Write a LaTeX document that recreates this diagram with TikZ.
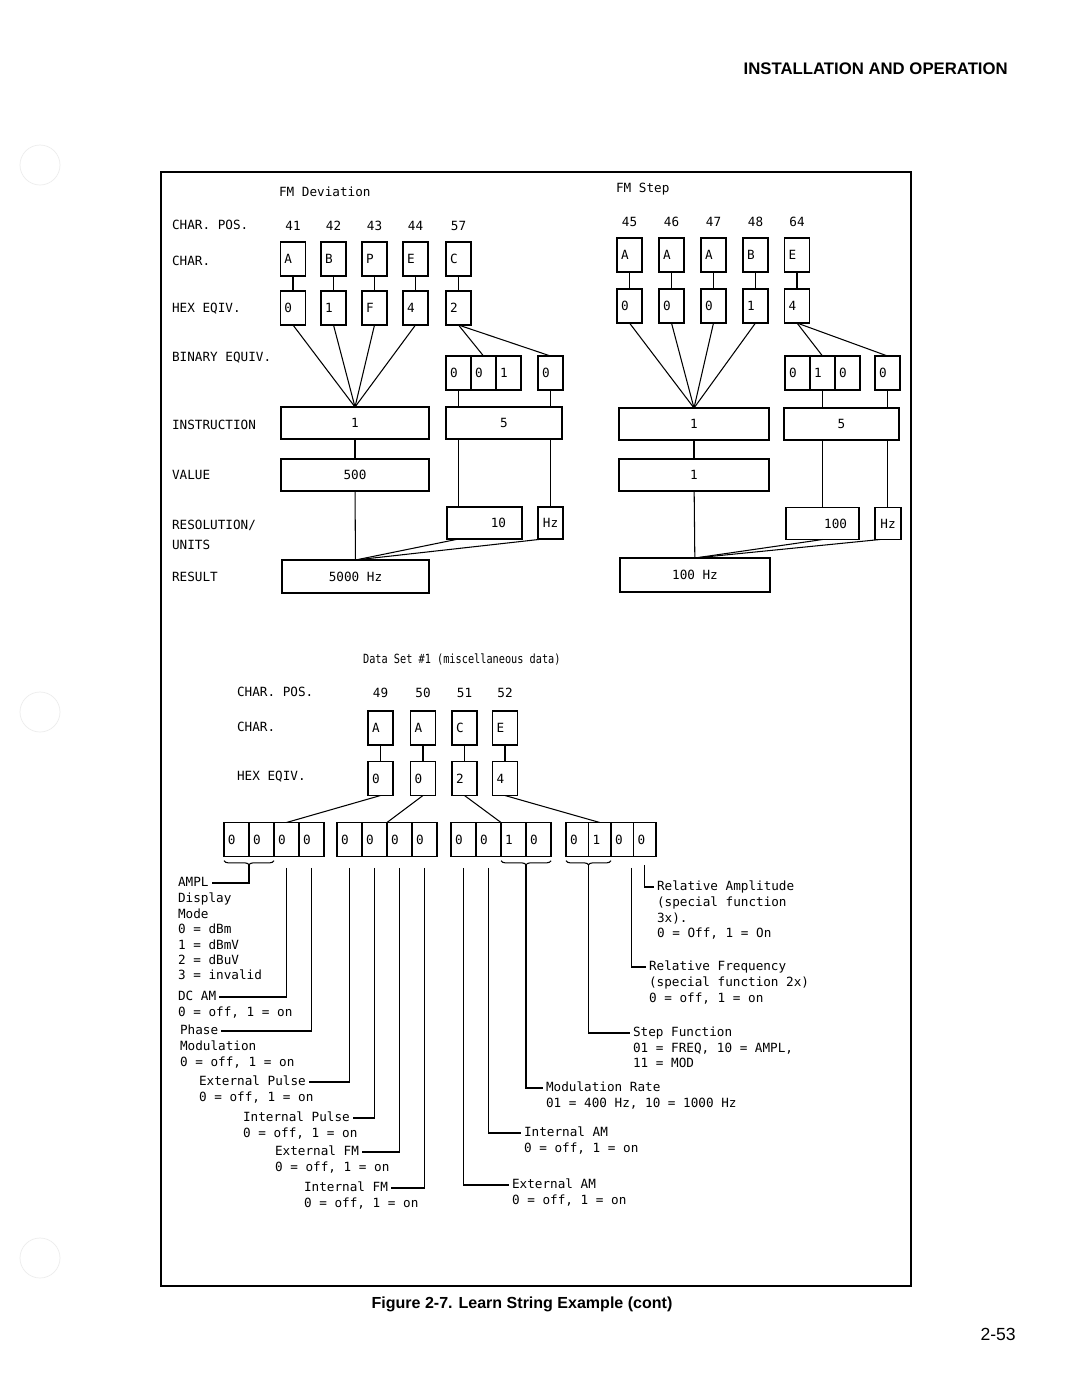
\documentclass[tikz,border=0pt]{standalone}
\usepackage{fontspec}
\usepackage{graphicx}
\setmainfont{Liberation Sans}
\newfontfamily\plotfont{DejaVu Sans Mono}
\newcommand\plotsize{\plotfont\fontsize{9}{11}\selectfont}
\usetikzlibrary{positioning,calc,decorations.pathreplacing}

\begin{document}
\begin{tikzpicture}[x=0.025cm,y=-0.025cm,font=\plotsize,
	box/.style={draw,line width=1.1pt,outer sep=0pt,inner sep=0pt},
	cell/.style={box,minimum height=0.85cm,text width=#1,inner xsep=0.1cm,align=left},
	cell/.default=0.425cm,
	wide/.style={box,minimum height=0.8cm,minimum width=#1},
	lbl/.style={inner xsep=2pt,inner ysep=1pt,text height=6.8pt,text depth=2.5pt,anchor=west},
	body/.style={inner xsep=2pt,inner ysep=1pt,align=left,anchor=north west},
	lead/.style={line width=0.75pt},
	bracket/.style={lead,decorate,decoration={brace,mirror,amplitude=3pt}}]
	\fill [white] (0,0) rectangle (1080,1397);
	\useasboundingbox (0,0) rectangle (1080,1397);
	% punched holes of the page
	\foreach \y in {165,712,1258}
		\draw [black!7,line width=0.5pt] (40,\y) circle (20);
	\node [font=\rmfamily\bfseries\fontsize{11.9}{14}\selectfont,inner sep=0pt,anchor=east] (head) at (1008,69) {INSTALLATION AND OPERATION};
	\draw [line width=1.2pt] (161,172) rectangle (911,1286);

	% row titles
	\node [lbl] (devtitle) at (276,193) {FM Deviation};
	\node [lbl] (stptitle) at (613,189) {FM Step};
	\node [lbl] (rowpos) at (169,226) {CHAR. POS.};
	\node [lbl] (rowchar) at (169,262) {CHAR.};
	\node [lbl] (rowhex) at (169,309) {HEX EQIV.};
	\node [lbl] (rowbin) at (169,358) {BINARY EQUIV.};
	\node [lbl] (rowins) at (169,426) {INSTRUCTION};
	\node [lbl] (rowval) at (169,476) {VALUE};
	\node [body,anchor=west] (rowres) at (169,535) {RESOLUTION/\\[3pt]UNITS};
	\node [lbl] (rowout) at (169,578) {RESULT};

	% FM deviation
	\foreach \x/\p/\c/\h [count=\i] in {293/41/A/0,333.5/42/B/1,374.5/43/P/F,415.5/44/E/4,458.5/57/C/2}{
		\node (devp\i) at (\x,226) {\p};
		\node [cell] (devc\i) at (\x,259) {\c};
		\node [cell] (devh\i) at (\x,308) {\h};
		\draw [lead] (devc\i) -- (devh\i);
	}
	\node [wide=3.7cm] (devi) at (355,423) {1};
	\foreach \i in {1,...,4}
		\draw [lead] (devh\i.south) -- (devi.north);
	\node [cell] (devb1) at (458.5,373) {0};
	\node [cell,right=0pt of devb1] (devb2) {0};
	\node [cell,right=0pt of devb2] (devb3) {1};
	\node [cell] (devb4) at (550.5,373) {0};
	\node [wide=2.9cm] (devj) at (504,423) {5};
	\draw [lead] (devh5.south) -- (devb2.north);
	\draw [lead] (devh5.south) -- (devb4.north);
	\draw [lead] (devb1.south) -- (devb1.south |- devj.north);
	\draw [lead] (devb4.south) -- (devb4.south |- devj.north);
	\node [wide=3.7cm] (devv) at (355,475) {500};
	\node [box,minimum height=0.8cm,text width=1.075cm,inner xsep=0.4cm,align=right] (devr) at (484.5,523) {10};
	\node [wide=0.625cm] (devu) at (550.5,523) {Hz};
	\draw [lead] (devb1 |- devj.south) -- (devb1 |- devr.north);
	\draw [lead] (devb4 |- devj.south) -- (devb4 |- devu.north);
	\node [wide=3.675cm,minimum height=0.825cm] (devres) at (355.5,576.5) {5000 Hz};
	\draw [lead] (devi) -- (devv);
	\draw [lead] (devv) -- (devres);
	\draw [lead] (devb1 |- devr.south) -- (devres.north);
	\draw [lead] ($(devu.south west)+(5,0)$) -- (devres.north);

	% FM step
	\foreach \x/\p/\c/\h [count=\i] in {629.5/45/A/0,671.5/46/A/0,713.5/47/A/0,755.5/48/B/1,797/64/E/4}{
		\node (stpp\i) at (\x,222) {\p};
		\node [cell] (stpc\i) at (\x,255) {\c};
		\node [cell] (stph\i) at (\x,306) {\h};
		\draw [lead] (stpc\i) -- (stph\i);
	}
	\node [wide=3.75cm] (stpi) at (694,424) {1};
	\foreach \i in {1,...,4}
		\draw [lead] (stph\i.south) -- (stpi.north);
	\node [cell] (stpb1) at (797.5,373) {0};
	\node [cell,right=0pt of stpb1] (stpb2) {1};
	\node [cell,right=0pt of stpb2] (stpb3) {0};
	\node [cell] (stpb4) at (887.5,373) {0};
	\node [wide=2.875cm] (stpj) at (841.5,424) {5};
	\draw [lead] (stph5.south) -- (stpb2.north);
	\draw [lead] (stph5.south) -- (stpb4.north);
	\draw [lead] (stpb2.south) -- (stpb2.south |- stpj.north);
	\draw [lead] (stpb4.south) -- (stpb4.south |- stpj.north);
	\node [wide=3.75cm] (stpv) at (694,475) {1};
	\node [box,minimum height=0.8cm,text width=1.225cm,inner xsep=0.3cm,align=right] (stpr) at (822.5,523.5) {100};
	\node [wide=0.65cm] (stpu) at (888,523.5) {Hz};
	\draw [lead] (stpb2 |- stpj.south) -- (stpb2 |- stpr.north);
	\draw [lead] (stpb4 |- stpj.south) -- (stpb4 |- stpu.north);
	\node [wide=3.75cm,minimum height=0.85cm] (stpres) at (695,575) {100 Hz};
	\draw [lead] (stpi) -- (stpv);
	\draw [lead] (stpv) -- (stpres);
	\draw [lead] (stpb2 |- stpr.south) -- (stpres.north);
	\draw [lead] ($(stpu.south west)+(5,0)$) -- (stpres.north);

	% data set #1
	\node [lbl] (dstitle) at (360,660) {\scalebox{0.81}[1]{Data Set \#1 (miscellaneous data)}};
	\node [lbl] (dsrowpos) at (234,693) {CHAR. POS.};
	\node [lbl] (dsrowchar) at (234,728) {CHAR.};
	\node [lbl] (dsrowhex) at (234,777) {HEX EQIV.};
	\foreach \x/\p/\c/\h [count=\i] in {380.5/49/A/0,423/50/A/0,464.5/51/C/2,505/52/E/4}{
		\node (dsp\i) at (\x,693) {\p};
		\node [cell] (dsc\i) at (\x,728) {\c};
		\node [cell] (dsh\i) at (\x,778.5) {\h};
		\draw [lead] (dsc\i) -- (dsh\i);
	}
	\foreach \g/\x/\tw/\ba/\bb/\bc/\bd in {1/236.5/0.425cm/0/0/0/0,2/349.5/0.425cm/0/0/0/0,3/463.5/0.425cm/0/0/1/0,4/577.25/0.3625cm/0/1/0/0}{
		\node [cell=\tw] (d\g1) at (\x,839.5) {\ba};
		\node [cell=\tw,right=0pt of d\g1] (d\g2) {\bb};
		\node [cell=\tw,right=0pt of d\g2] (d\g3) {\bc};
		\node [cell=\tw,right=0pt of d\g3] (d\g4) {\bd};
	}
	\draw [lead] (dsh1.south) -- (d13.north);
	\draw [lead] (dsh2.south) -- (d22.north east);
	\draw [lead] (dsh3.south) -- (d32.north east);
	\draw [lead] (dsh4.south) -- (d42.north);
	\draw [bracket] ([yshift=-3pt]d11.south west) -- ([yshift=-3pt]d12.south east);
	\draw [bracket] ([yshift=-3pt]d33.south west) -- ([yshift=-3pt]d34.south east);
	\draw [bracket] ([yshift=-3pt]d41.south west) -- ([yshift=-3pt]d42.south east);

	% bit meanings, left
	\node [lbl] (ampl) at (175,883) {AMPL};
	\node [body] (amplb) at (ampl.south west) {Display\\Mode\\0 = dBm\\1 = dBmV\\2 = dBuV\\3 = invalid};
	\node [lbl] (dcam) at (175,997) {DC AM};
	\node [body] (dcamb) at (dcam.south west) {0 = off, 1 = on};
	\node [lbl] (phase) at (177,1031) {Phase};
	\node [body] (phaseb) at (phase.south west) {Modulation\\0 = off, 1 = on};
	\node [lbl] (extp) at (196,1082) {External Pulse};
	\node [body] (extpb) at (extp.south west) {0 = off, 1 = on};
	\node [lbl] (intp) at (240,1118) {Internal Pulse};
	\node [body] (intpb) at (intp.south west) {0 = off, 1 = on};
	\node [lbl] (extf) at (272,1152) {External FM};
	\node [body] (extfb) at (extf.south west) {0 = off, 1 = on};
	\node [lbl] (intf) at (301,1188) {Internal FM};
	\node [body] (intfb) at (intf.south west) {0 = off, 1 = on};
	% bit meanings, right
	\node [lbl] (rela) at (654,887) {Relative Amplitude};
	\node [body] (relab) at (rela.south west) {(special function\\3x).\\0 = Off, 1 = On};
	\node [lbl] (relf) at (646,967) {Relative Frequency};
	\node [body] (relfb) at (relf.south west) {(special function 2x)\\0 = off, 1 = on};
	\node [lbl] (stepf) at (630,1033) {Step Function};
	\node [body] (stepfb) at (stepf.south west) {01 = FREQ, 10 = AMPL,\\11 = MOD};
	\node [lbl] (modr) at (543,1088) {Modulation Rate};
	\node [body] (modrb) at (modr.south west) {01 = 400 Hz, 10 = 1000 Hz};
	\node [lbl] (inta) at (521,1133) {Internal AM};
	\node [body] (intab) at (inta.south west) {0 = off, 1 = on};
	\node [lbl] (exta) at (509,1185) {External AM};
	\node [body] (extab) at (exta.south west) {0 = off, 1 = on};

	\draw [lead] ([yshift=-6pt]d11.south east) |- (ampl.east);
	\foreach \c/\l in {d13/dcam,d14/phase,d21/extp,d22/intp,d23/extf,d24/intf}
		\draw [lead] ([yshift=-8pt]\c.south) |- (\l.east);
	\foreach \c/\l in {d31/exta,d32/inta}
		\draw [lead] ([yshift=-8pt]\c.south) |- (\l.west);
	\draw [lead] ([yshift=-6pt]d33.south east) |- (modr.west);
	\draw [lead] ([yshift=-6pt]d41.south east) |- (stepf.west);
	\draw [lead] ([yshift=-8pt,xshift=-1.5pt]d43.south east) |- (relf.west);
	\draw [lead] ([yshift=-6pt]d44.south) |- (rela.west);

	\node [font=\rmfamily\bfseries\fontsize{11.4}{14}\selectfont,inner sep=0pt] (caption) at (522,1304) {Figure 2-7. Learn String Example (cont)};
	\node [font=\rmfamily\fontsize{12.5}{15}\selectfont,inner sep=0pt,anchor=east] (pageno) at (1016,1334) {2-53};
\end{tikzpicture}
\end{document}
